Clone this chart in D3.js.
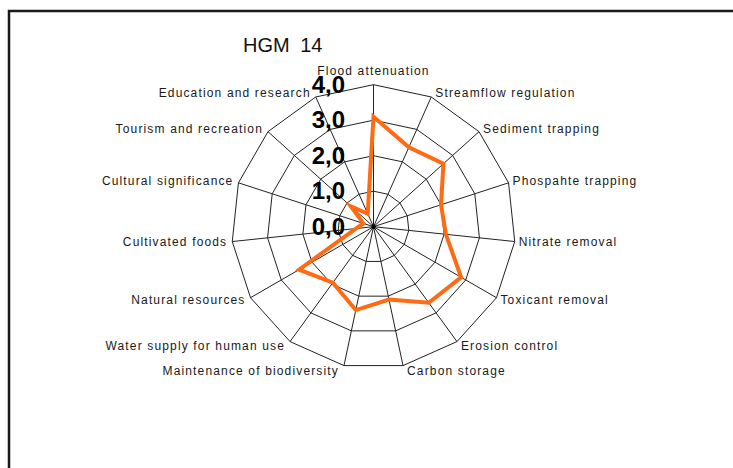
<!DOCTYPE html>
<html lang="en">
<head>
	<meta charset="utf-8">
	<title>HGM 14</title>
	<script src="https://d3js.org/d3.v7.min.js"></script>
	<style>
	body { margin: 0; background: #fff; }
	text { font-family: Arial, "Liberation Sans", sans-serif; }
	</style>
</head>
<body>
<script>
// categories, clockwise from the top
var categories = [
	"Flood attenuation", "Streamflow regulation", "Sediment trapping",
	"Phospahte trapping", "Nitrate removal", "Toxicant removal",
	"Erosion control", "Carbon storage", "Maintenance of biodiversity",
	"Water supply for human use", "Natural resources", "Cultivated foods",
	"Cultural significance", "Tourism and recreation", "Education and research"
];
// scores
var scores = [3.1, 2.45, 2.65, 2.0, 2.05, 2.85, 2.65, 2.1, 2.4, 1.95, 2.42, 0.5, 0.3, 0.86, 0.4];
var ticks = [0, 1, 2, 3, 4];
var tickLabels = ["0,0", "1,0", "2,0", "3,0", "4,0"];
var title = "HGM 14";

var w = 733, h = 468;
var cx = 373.5, cy = 226.7;
var n = categories.length;

var svg = d3.select("body").append("svg")
	.attr("width", w)
	.attr("height", h);

// frame (only top and left edges show in the crop)
svg.append("path")
	.attr("d", "M9,470 L9,11 L740,11")
	.attr("fill", "none")
	.attr("stroke", "#1a1a1a")
	.attr("stroke-width", 2.5);

var r = d3.scaleLinear().domain([0, 4]).range([0, 142]);
var angle = d3.scaleLinear().domain([0, n]).range([0, 2 * Math.PI]);

function pt(i, v) {
	var a = angle(i);
	return [cx + r(v) * Math.sin(a), cy - r(v) * Math.cos(a)];
}

var g = svg.append("g");

// rings
ticks.filter(function(t) { return t > 0; }).forEach(function(t) {
	var ring = d3.range(n).map(function(i) { return pt(i, t); });
	g.append("polygon")
		.attr("points", ring.map(function(p) { return p.join(","); }).join(" "))
		.attr("fill", "none")
		.attr("stroke", "#222")
		.attr("stroke-width", 1);
});

// spokes
g.selectAll("line.spoke")
	.data(categories)
	.enter().append("line")
	.attr("class", "spoke")
	.attr("x1", cx).attr("y1", cy)
	.attr("x2", function(d, i) { return pt(i, 4)[0]; })
	.attr("y2", function(d, i) { return pt(i, 4)[1]; })
	.attr("stroke", "#222")
	.attr("stroke-width", 1);

g.append("circle").attr("cx", cx).attr("cy", cy).attr("r", 2.2).attr("fill", "#000");

// data line
var line = d3.lineRadial()
	.angle(function(d, i) { return angle(i); })
	.radius(function(d) { return r(d); })
	.curve(d3.curveLinearClosed);

g.append("path")
	.attr("transform", "translate(" + cx + "," + cy + ")")
	.attr("d", line(scores))
	.attr("fill", "none")
	.attr("stroke", "#ff6a13")
	.attr("stroke-width", 4)
	.attr("stroke-linejoin", "miter");

// category labels
g.selectAll("text.cat")
	.data(categories)
	.enter().append("text")
	.attr("class", "cat")
	.attr("x", function(d, i) {
		var s = Math.sin(angle(i));
		if (Math.abs(s) < 0.01) return pt(i, 4)[0];
		return pt(i, 4)[0] + (s > 0 ? 4 : -5);
	})
	.attr("y", function(d, i) {
		if (i === 0) return pt(i, 4)[1] - 14;
		return pt(i, 4)[1] - 5 * Math.cos(angle(i));
	})
	.attr("dy", "0.35em")
	.attr("text-anchor", function(d, i) {
		var s = Math.sin(angle(i));
		if (Math.abs(s) < 0.01) return "middle";
		return s > 0 ? "start" : "end";
	})
	.attr("font-size", 12)
	.attr("letter-spacing", "1.15px")
	.attr("fill", "#1a1a1a")
	.text(function(d) { return d; });

// value labels
g.selectAll("text.tick")
	.data(ticks)
	.enter().append("text")
	.attr("class", "tick")
	.attr("x", 345)
	.attr("y", function(d) { return cy - r(d) + 8; })
	.attr("text-anchor", "end")
	.attr("font-size", 24)
	.attr("font-weight", "bold")
	.attr("fill", "#000")
	.text(function(d, i) { return tickLabels[i]; });

// title
svg.append("text")
	.attr("x", 243)
	.attr("y", 52)
	.attr("font-size", 20)
	.attr("word-spacing", "5px")
	.attr("fill", "#111")
	.text(title);
</script>
</body>
</html>
